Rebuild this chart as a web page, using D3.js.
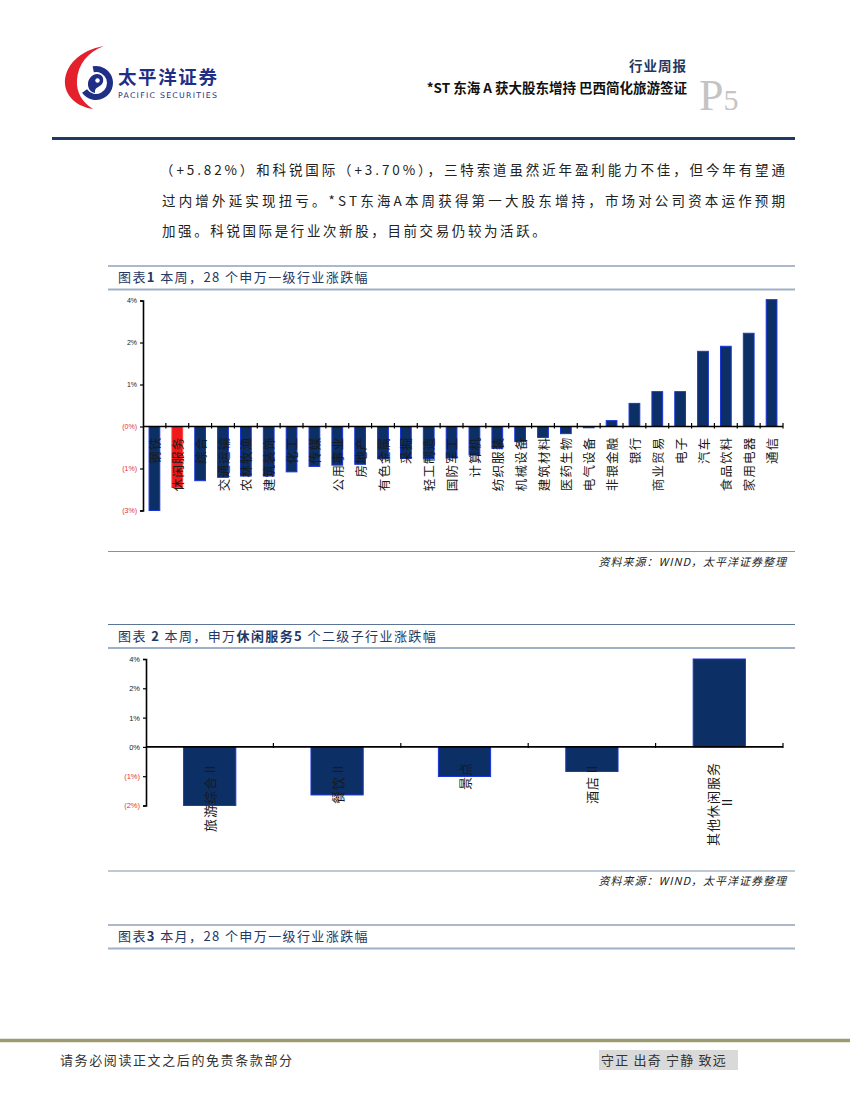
<!DOCTYPE html>
<html><head><meta charset="utf-8">
<script src="https://cdn.jsdelivr.net/npm/d3@7"></script>
<style>body{margin:0;background:#fff}</style>
</head><body>
<svg id="page" width="850" height="1100" xmlns="http://www.w3.org/2000/svg"></svg>
<script>
// ---------- data ----------
const industries = ["钢铁","休闲服务","综合","交通运输","农林牧渔","建筑装饰","化工","传媒","公用事业","房地产","有色金属","采掘","轻工制造","国防军工","计算机","纺织服装","机械设备","建筑材料","医药生物","电气设备","非银金融","银行","商业贸易","电子","汽车","食品饮料","家用电器","通信"];
const weeklyChange = [-2.0,-1.45,-1.29,-1.21,-1.18,-1.18,-1.08,-0.95,-0.92,-0.90,-0.77,-0.76,-0.76,-0.75,-0.68,-0.52,-0.36,-0.26,-0.17,-0.03,0.14,0.55,0.83,0.83,1.79,1.91,2.22,3.02];
const highlightIndustry = "休闲服务";
const axisTicks1 = [-2,-1,0,1,2,3];
const axisLabels1 = ["(3%)","(1%)","(0%)","1%","2%","4%"];

const subIndustries = ["旅游综合Ⅱ","餐饮Ⅱ","景点","酒店Ⅱ","其他休闲服务Ⅱ"];
const subLabelLines = [["旅游综合Ⅱ"],["餐饮Ⅱ"],["景点"],["酒店Ⅱ"],["其他休闲服务","Ⅱ"]];
const subChange = [-2.0,-1.64,-1.01,-0.84,3.0];
const axisTicks2 = [-2,-1,0,1,2,3];
const axisLabels2 = ["(2%)","(1%)","0%","1%","2%","4%"];

const bodyLines = [
  "（+5.82%）和科锐国际（+3.70%），三特索道虽然近年盈利能力不佳，但今年有望通",
  "过内增外延实现扭亏。*ST东海A本周获得第一大股东增持，市场对公司资本运作预期",
  "加强。科锐国际是行业次新股，目前交易仍较为活跃。"
];

// ---------- page ----------
const svg = d3.select("#page");
const CJK = "'Noto Sans CJK SC','Noto Sans',sans-serif";
const NAVY = "#1f3864";
const BAR_FILL = "#0c2f66";
const BAR_STROKE = "#1a35d8";

// logo
const logo = svg.append("g");
logo.append("path")
  .attr("d","M104,46 C80,50 64,66 65,84 C66,97 78,107 93,109 C82,102 76,92 77,80 C78,64 88,52 104,46 Z")
  .attr("fill","#e3202b");
logo.append("path")
  .attr("d", d3.arc().innerRadius(11).outerRadius(17).startAngle(-0.2).endAngle(4.1)())
  .attr("transform","translate(96,83)").attr("fill","#1f2f86");
logo.append("path")
  .attr("d","M90,78 C95,71 105,74 103,82 C101,88 94,86 95,93 C88,92 86,83 90,78 Z")
  .attr("fill","#1f2f86");
logo.append("circle").attr("cx",97.5).attr("cy",80.5).attr("r",2.2).attr("fill","#fff");
logo.append("text").attr("x",118).attr("y",84)
  .attr("font-family",CJK).attr("font-weight",700).attr("font-size",18.5)
  .attr("fill","#1f2f86").attr("textLength",99).text("太平洋证券");
logo.append("text").attr("x",118).attr("y",97.5)
  .attr("font-family","'DejaVu Sans',sans-serif").attr("font-size",7.8)
  .attr("fill","#1f2f86").attr("textLength",99).text("PACIFIC SECURITIES");

// header right
svg.append("text").attr("x",687).attr("y",71).attr("text-anchor","end")
  .attr("font-family",CJK).attr("font-weight",700).attr("font-size",13.5)
  .attr("fill",NAVY).attr("letter-spacing",1).text("行业周报");
svg.append("text").attr("x",687).attr("y",93).attr("text-anchor","end")
  .attr("font-family",CJK).attr("font-weight",700).attr("font-size",13.5)
  .attr("fill","#111").text("*ST 东海 A 获大股东增持 巴西简化旅游签证");
const p5 = svg.append("text").attr("x",699).attr("y",110)
  .attr("font-family","'Liberation Serif','DejaVu Serif',serif").attr("fill","#c4c4c4");
p5.append("tspan").attr("font-size",44).text("P");
p5.append("tspan").attr("font-size",30).text("5");

svg.append("line").attr("x1",52).attr("x2",795).attr("y1",138.5).attr("y2",138.5)
  .attr("stroke","#1f3864").attr("stroke-width",3.2);

// body text
bodyLines.forEach((t,i)=>{
  const tx = svg.append("text").attr("x", i===0?160:162).attr("y",175+i*30.5)
    .attr("font-family",CJK).attr("font-size",13.5).attr("fill","#222").text(t);
  if (i<2) tx.attr("textLength", i===0?625:623).attr("lengthAdjust","spacing");
  else tx.attr("letter-spacing",2.6);
});

// ---------- helper: title block ----------
function titleBlock(yTop, parts){
  svg.append("line").attr("x1",108).attr("x2",795).attr("y1",yTop).attr("y2",yTop)
    .attr("stroke","#5d7595").attr("stroke-width",1.2);
  svg.append("line").attr("x1",108).attr("x2",795).attr("y1",yTop+23.5).attr("y2",yTop+23.5)
    .attr("stroke","#9fb1c7").attr("stroke-width",2.2);
  const t = svg.append("text").attr("x",118).attr("y",yTop+16)
    .attr("font-family",CJK).attr("font-size",13).attr("fill",NAVY).attr("letter-spacing",1.4);
  parts.forEach(p=>t.append("tspan").attr("font-weight",p[1]?700:400).text(p[0]));
}
function sourceBlock(y){
  svg.append("line").attr("x1",108).attr("x2",795).attr("y1",y).attr("y2",y)
    .attr("stroke","#7f93ad").attr("stroke-width",1);
  svg.append("text").attr("x",787).attr("y",y+14).attr("text-anchor","end")
    .attr("font-family",CJK).attr("font-size",11).attr("font-style","italic")
    .attr("fill","#222").attr("letter-spacing",1).text("资料来源：WIND，太平洋证券整理");
}

// ---------- chart 1 ----------
titleBlock(266, [["图表",0],["1",1],[" 本周，28 个申万一级行业涨跌幅",0]]);
{
  const left=143, right=783;
  const x = d3.scaleBand().domain(industries).range([left,right]).padding(0);
  const y = d3.scaleLinear().domain([-2,3]).range([510.5,300.5]);
  const g = svg.append("g");
  const bw = x.bandwidth()*0.47;
  g.selectAll("rect.bar").data(industries).join("rect")
    .attr("x",d=>x(d)+(x.bandwidth()-bw)/2)
    .attr("width",bw)
    .attr("y",(d,i)=>y(Math.max(0,weeklyChange[i])))
    .attr("height",(d,i)=>Math.abs(y(weeklyChange[i])-y(0)))
    .attr("fill",d=>d===highlightIndustry?"#f01a1a":BAR_FILL)
    .attr("stroke",d=>d===highlightIndustry?"#ff4040":BAR_STROKE).attr("stroke-width",1);
  const ya = g.append("g").attr("transform",`translate(${left},0)`)
    .call(d3.axisLeft(y).tickValues(axisTicks1).tickFormat((d,i)=>axisLabels1[i]).tickSize(3).tickPadding(3));
  ya.select(".domain").attr("stroke","#000").attr("stroke-width",1.6);
  ya.selectAll(".tick line").attr("stroke","#000").attr("stroke-width",1.2);
  ya.selectAll(".tick text").attr("font-family","Arial,'Liberation Sans',sans-serif").attr("font-size",7)
    .attr("fill",d=>d<=0?"#e0303a":"#222");
  g.append("line").attr("x1",left).attr("x2",right).attr("y1",y(0)).attr("y2",y(0))
    .attr("stroke","#000").attr("stroke-width",1.6);
  const bounds = industries.map(d=>x(d)).concat([right]).slice(1);
  g.selectAll("line.xt").data(bounds).join("line")
    .attr("x1",d=>d).attr("x2",d=>d).attr("y1",y(0)-3.5).attr("y2",y(0)+2)
    .attr("stroke","#000").attr("stroke-width",1.2);
  g.selectAll("text.cat").data(industries).join("text")
    .attr("transform",d=>`translate(${x(d)+x.bandwidth()/2},${y(0)+10}) rotate(-90)`)
    .attr("text-anchor","end").attr("dominant-baseline","central")
    .attr("font-family",CJK).attr("font-size",12.5).attr("fill","#1a1a1a")
    .attr("letter-spacing",1.2).text(d=>d);
}
sourceBlock(551.5);

// ---------- chart 2 ----------
titleBlock(624.5, [["图表 ",0],["2",1],[" 本周，申万",0],["休闲服务5",1],[" 个二级子行业涨跌幅",0]]);
{
  const left=146, right=783;
  const x = d3.scaleBand().domain(subIndustries).range([left,right]).padding(0);
  const y = d3.scaleLinear().domain([-2,3]).range([805.5,659]);
  const g = svg.append("g");
  const bw = x.bandwidth()*0.41;
  g.selectAll("rect.bar").data(subIndustries).join("rect")
    .attr("x",d=>x(d)+(x.bandwidth()-bw)/2)
    .attr("width",bw)
    .attr("y",(d,i)=>y(Math.max(0,subChange[i])))
    .attr("height",(d,i)=>Math.abs(y(subChange[i])-y(0)))
    .attr("fill",BAR_FILL).attr("stroke",BAR_STROKE).attr("stroke-width",1);
  const ya = g.append("g").attr("transform",`translate(${left},0)`)
    .call(d3.axisLeft(y).tickValues(axisTicks2).tickFormat((d,i)=>axisLabels2[i]).tickSize(3).tickPadding(3));
  ya.select(".domain").attr("stroke","#000").attr("stroke-width",1.6);
  ya.selectAll(".tick line").attr("stroke","#000").attr("stroke-width",1.2);
  ya.selectAll(".tick text").attr("font-family","Arial,'Liberation Sans',sans-serif").attr("font-size",7.5)
    .attr("fill",d=>d<0?"#e0303a":"#222");
  g.append("line").attr("x1",left).attr("x2",right).attr("y1",y(0)).attr("y2",y(0))
    .attr("stroke","#000").attr("stroke-width",1.6);
  const bounds = subIndustries.map(d=>x(d)).concat([right]).slice(1);
  g.selectAll("line.xt").data(bounds).join("line")
    .attr("x1",d=>d).attr("x2",d=>d).attr("y1",y(0)-4).attr("y2",y(0)+1)
    .attr("stroke","#000").attr("stroke-width",1.2);
  subIndustries.forEach((d,i)=>{
    const lines = subLabelLines[i];
    const cx = x(d)+x.bandwidth()/2;
    lines.forEach((ln,j)=>{
      const off = (j-(lines.length-1)/2)*14.5;
      g.append("text")
        .attr("transform",`translate(${cx+off},${y(0)+15}) rotate(-90)`)
        .attr("text-anchor",lines.length>1 && j>0 ? "middle":"end")
        .attr("dominant-baseline","central")
        .attr("font-family",CJK).attr("font-size",13).attr("fill","#1a1a1a")
        .attr("letter-spacing",1)
        .attr("dx", lines.length>1 && j>0 ? -40 : 0)
        .text(ln);
    });
  });
}
sourceBlock(871);

// ---------- chart 3 title ----------
titleBlock(925, [["图表",0],["3",1],[" 本月，28 个申万一级行业涨跌幅",0]]);

// ---------- footer ----------
svg.append("line").attr("x1",0).attr("x2",850).attr("y1",1040.5).attr("y2",1040.5)
  .attr("stroke","#9d9a6f").attr("stroke-width",3.5);
svg.append("text").attr("x",60).attr("y",1065)
  .attr("font-family",CJK).attr("font-size",13).attr("fill","#333").attr("letter-spacing",1.6)
  .text("请务必阅读正文之后的免责条款部分");
svg.append("rect").attr("x",599).attr("y",1050).attr("width",139).attr("height",20).attr("fill","#d9d9d9");
svg.append("text").attr("x",601).attr("y",1065)
  .attr("font-family",CJK).attr("font-size",13).attr("fill","#333").attr("letter-spacing",1.2)
  .text("守正 出奇 宁静 致远");
</script>
</body></html>
